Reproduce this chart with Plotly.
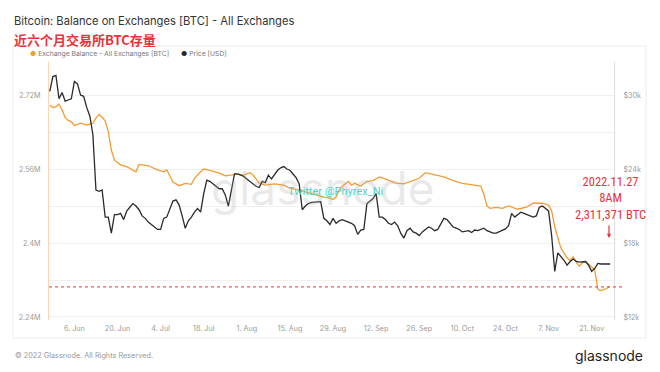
import plotly.graph_objects as go

# ---------------- data ----------------
balance_dates = [
    "2022-05-29", "2022-05-30", "2022-05-31", "2022-06-01", "2022-06-02", "2022-06-03",
    "2022-06-04", "2022-06-05", "2022-06-06", "2022-06-07", "2022-06-08", "2022-06-10",
    "2022-06-12", "2022-06-13", "2022-06-14", "2022-06-15", "2022-06-16", "2022-06-17",
    "2022-06-18", "2022-06-19", "2022-06-21", "2022-06-23", "2022-06-25", "2022-06-26",
    "2022-06-27", "2022-06-30", "2022-07-03", "2022-07-05", "2022-07-06", "2022-07-08",
    "2022-07-10", "2022-07-12", "2022-07-14", "2022-07-15", "2022-07-17", "2022-07-18",
    "2022-07-20", "2022-07-23", "2022-07-25", "2022-07-27", "2022-07-29", "2022-07-31",
    "2022-08-02", "2022-08-03", "2022-08-05", "2022-08-07", "2022-08-10", "2022-08-13",
    "2022-08-15", "2022-08-17", "2022-08-20", "2022-08-23", "2022-08-26", "2022-08-28",
    "2022-08-29", "2022-08-30", "2022-08-31", "2022-09-01", "2022-09-03", "2022-09-04",
    "2022-09-05", "2022-09-07", "2022-09-09", "2022-09-11", "2022-09-13", "2022-09-16",
    "2022-09-18", "2022-09-21", "2022-09-24", "2022-09-26", "2022-09-28", "2022-10-01",
    "2022-10-04", "2022-10-07", "2022-10-10", "2022-10-14", "2022-10-16", "2022-10-17",
    "2022-10-18", "2022-10-19", "2022-10-21", "2022-10-23", "2022-10-25", "2022-10-28",
    "2022-10-31", "2022-11-02", "2022-11-05", "2022-11-07", "2022-11-08", "2022-11-09",
    "2022-11-10", "2022-11-11", "2022-11-12", "2022-11-13", "2022-11-14", "2022-11-15",
    "2022-11-16", "2022-11-17", "2022-11-18", "2022-11-19", "2022-11-20", "2022-11-21",
    "2022-11-22", "2022-11-23", "2022-11-24", "2022-11-25", "2022-11-26", "2022-11-27",
]
balance_m = [
    2.698, 2.693, 2.695, 2.700, 2.688, 2.671,
    2.665, 2.662, 2.654, 2.656, 2.659, 2.655,
    2.659, 2.670, 2.678, 2.672, 2.664, 2.641,
    2.601, 2.579, 2.569, 2.565, 2.558, 2.554,
    2.570, 2.567, 2.558, 2.554, 2.558, 2.532,
    2.524, 2.529, 2.527, 2.540, 2.554, 2.560,
    2.557, 2.551, 2.545, 2.547, 2.549, 2.547,
    2.552, 2.547, 2.530, 2.525, 2.528, 2.525,
    2.518, 2.516, 2.510, 2.504, 2.499, 2.497,
    2.494, 2.500, 2.515, 2.523, 2.533, 2.525,
    2.529, 2.523, 2.533, 2.535, 2.543, 2.536,
    2.530, 2.528, 2.535, 2.540, 2.552, 2.547,
    2.543, 2.535, 2.529, 2.525, 2.523, 2.505,
    2.480, 2.475, 2.477, 2.475, 2.480, 2.473,
    2.478, 2.486, 2.486, 2.482, 2.470, 2.435,
    2.410, 2.389, 2.378, 2.368, 2.362, 2.370,
    2.358, 2.350, 2.357, 2.360, 2.354, 2.349,
    2.342, 2.300, 2.297, 2.299, 2.303, 2.306,
]

price_dates = [
    "2022-05-29", "2022-05-30", "2022-05-31", "2022-06-01", "2022-06-02", "2022-06-03",
    "2022-06-04", "2022-06-05", "2022-06-06", "2022-06-07", "2022-06-08", "2022-06-09",
    "2022-06-10", "2022-06-11", "2022-06-12", "2022-06-13", "2022-06-14", "2022-06-15",
    "2022-06-16", "2022-06-17", "2022-06-18", "2022-06-19", "2022-06-20", "2022-06-21",
    "2022-06-22", "2022-06-23", "2022-06-24", "2022-06-25", "2022-06-26", "2022-06-27",
    "2022-06-28", "2022-06-29", "2022-06-30", "2022-07-01", "2022-07-02", "2022-07-03",
    "2022-07-04", "2022-07-05", "2022-07-06", "2022-07-07", "2022-07-08", "2022-07-09",
    "2022-07-10", "2022-07-11", "2022-07-12", "2022-07-13", "2022-07-14", "2022-07-15",
    "2022-07-16", "2022-07-17", "2022-07-18", "2022-07-19", "2022-07-20", "2022-07-21",
    "2022-07-22", "2022-07-23", "2022-07-24", "2022-07-25", "2022-07-26", "2022-07-27",
    "2022-07-28", "2022-07-29", "2022-07-30", "2022-07-31", "2022-08-01", "2022-08-02",
    "2022-08-03", "2022-08-04", "2022-08-05", "2022-08-06", "2022-08-07", "2022-08-08",
    "2022-08-09", "2022-08-10", "2022-08-11", "2022-08-12", "2022-08-13", "2022-08-14",
    "2022-08-15", "2022-08-16", "2022-08-17", "2022-08-18", "2022-08-19", "2022-08-20",
    "2022-08-21", "2022-08-22", "2022-08-23", "2022-08-24", "2022-08-25", "2022-08-26",
    "2022-08-27", "2022-08-28", "2022-08-29", "2022-08-30", "2022-08-31", "2022-09-01",
    "2022-09-02", "2022-09-03", "2022-09-04", "2022-09-05", "2022-09-06", "2022-09-07",
    "2022-09-08", "2022-09-09", "2022-09-10", "2022-09-11", "2022-09-12", "2022-09-13",
    "2022-09-14", "2022-09-15", "2022-09-16", "2022-09-17", "2022-09-18", "2022-09-19",
    "2022-09-20", "2022-09-21", "2022-09-22", "2022-09-23", "2022-09-24", "2022-09-25",
    "2022-09-26", "2022-09-27", "2022-09-28", "2022-09-29", "2022-09-30", "2022-10-01",
    "2022-10-02", "2022-10-03", "2022-10-04", "2022-10-05", "2022-10-06", "2022-10-07",
    "2022-10-08", "2022-10-09", "2022-10-10", "2022-10-11", "2022-10-12", "2022-10-13",
    "2022-10-14", "2022-10-15", "2022-10-16", "2022-10-17", "2022-10-18", "2022-10-19",
    "2022-10-20", "2022-10-21", "2022-10-22", "2022-10-23", "2022-10-24", "2022-10-25",
    "2022-10-26", "2022-10-27", "2022-10-28", "2022-10-29", "2022-10-30", "2022-10-31",
    "2022-11-01", "2022-11-02", "2022-11-03", "2022-11-04", "2022-11-05", "2022-11-06",
    "2022-11-07", "2022-11-08", "2022-11-09", "2022-11-10", "2022-11-11", "2022-11-12",
    "2022-11-13", "2022-11-14", "2022-11-15", "2022-11-16", "2022-11-17", "2022-11-18",
    "2022-11-19", "2022-11-20", "2022-11-21", "2022-11-22", "2022-11-23", "2022-11-24",
    "2022-11-25", "2022-11-26", "2022-11-27",
]
price_k = [
    30.3, 31.5, 31.6, 29.7, 30.2, 29.5,
    29.6, 29.7, 31.1, 30.9, 30.0, 29.9,
    29.0, 28.3, 26.8, 22.3, 22.2, 22.3,
    20.1, 20.1, 18.8, 20.3, 20.3, 20.4,
    19.9, 20.6, 20.9, 21.2, 21.0, 20.7,
    20.2, 20.0, 19.7, 19.5, 19.3, 19.1,
    19.1, 20.0, 20.1, 20.8, 21.4, 21.5,
    21.1, 20.2, 19.2, 19.8, 20.1, 20.5,
    20.8, 20.5, 22.0, 23.1, 23.0, 22.8,
    22.6, 22.4, 22.4, 21.9, 21.0, 22.4,
    23.6, 23.6, 23.5, 23.4, 23.2, 23.0,
    22.8, 22.6, 22.5, 23.0, 22.9, 23.5,
    23.2, 23.6, 23.9, 24.1, 24.2, 24.0,
    23.9, 23.6, 23.3, 22.8, 20.7, 21.0,
    21.2, 21.3, 21.3, 21.3, 21.35, 20.0,
    19.8, 19.5, 20.0, 19.6, 19.8, 19.9,
    19.8, 19.7, 19.6, 19.4, 18.7, 19.05,
    19.1, 21.2, 21.4, 21.6, 22.0, 20.1,
    20.1, 19.9, 19.6, 19.5, 19.7, 19.4,
    18.8, 18.4, 19.0, 19.2, 18.9, 18.8,
    18.6, 18.9, 19.1, 19.3, 19.2, 19.0,
    19.1, 19.5, 20.0, 19.9, 19.6, 19.3,
    19.2, 19.1, 18.9, 18.95, 19.0, 18.85,
    19.05, 19.0, 19.1, 19.2, 19.0, 18.9,
    18.8, 18.8, 18.9, 19.05, 19.15, 19.4,
    20.4, 20.1, 20.3, 20.5, 20.4, 20.3,
    20.2, 20.1, 20.2, 20.9, 21.0, 20.8,
    20.6, 18.6, 15.7, 17.2, 16.9, 16.6,
    16.2, 16.5, 16.7, 16.5, 16.45, 16.5,
    16.5, 16.2, 15.7, 15.95, 16.35, 16.3,
    16.3, 16.3, 16.3,
]

x_tick_dates = ["2022-06-06", "2022-06-20", "2022-07-04", "2022-07-18", "2022-08-01",
                "2022-08-15", "2022-08-29", "2022-09-12", "2022-09-26", "2022-10-10",
                "2022-10-24", "2022-11-07", "2022-11-21"]
left_tick_vals = [2.24, 2.32, 2.40, 2.48, 2.56, 2.64, 2.72]
left_tick_text = ["2.24M", "", "2.4M", "", "2.56M", "", "2.72M"]
right_tick_vals = [12, 18, 24, 30]
right_tick_text = ["$12k", "$18k", "$24k", "$30k"]
marked_level_m = 2.305
legend_names = ["Exchange Balance - All Exchanges [BTC]", "Price [USD]"]

# ---------------- styling ----------------
ORANGE = "#f39c33"
DARK = "#2a2a2a"
RED = "#e8333d"
AXIS_FONT = dict(family="Inter, Roboto, sans-serif", size=7.2, color="#9a9a9a")

fig = go.Figure()

fig.add_trace(go.Scatter(
    x=balance_dates, y=balance_m, mode="lines", yaxis="y", name=legend_names[0],
    line=dict(color=ORANGE, width=1.3), showlegend=False, hoverinfo="skip"))
fig.add_trace(go.Scatter(
    x=price_dates, y=price_k, mode="lines", yaxis="y2", name=legend_names[1],
    line=dict(color=DARK, width=1.3), showlegend=False, hoverinfo="skip"))

L, R, T, B = 49, 46, 62, 52
W, H = 660, 372
PW, PH = W - L - R, H - T - B


def px(xp):
    return (xp - L) / PW


def py(yp):
    return (H - B - yp) / PH


fig.update_layout(
    width=W, height=H,
    margin=dict(l=L, r=R, t=T, b=B, autoexpand=False),
    paper_bgcolor="white", plot_bgcolor="white",
    showlegend=False,
    font=dict(family="Inter, Roboto, sans-serif"),
    xaxis=dict(
        type="date", range=["2022-05-28 18:00", "2022-11-28 06:00"],
        tickvals=x_tick_dates, tickformat="%-d. %b",
        showgrid=False, zeroline=False, showline=False, automargin=False,
        ticks="outside", ticklen=1, tickcolor="rgba(0,0,0,0)",
        tickfont=AXIS_FONT,
    ),
    yaxis=dict(
        range=[2.2335, 2.7914], tickvals=left_tick_vals, ticktext=left_tick_text,
        showgrid=True, gridcolor="#f0f0f0", gridwidth=1, zeroline=False,
        showline=True, linecolor="#fad7b0", linewidth=1, automargin=False,
        ticks="outside", ticklen=6, tickcolor="rgba(0,0,0,0)",
        tickfont=AXIS_FONT,
    ),
    yaxis2=dict(
        range=[11.757, 32.68], overlaying="y", side="right",
        tickvals=right_tick_vals, ticktext=right_tick_text,
        showgrid=False, zeroline=False, automargin=False,
        showline=True, linecolor="#dcdcdc", linewidth=1,
        ticks="outside", ticklen=7, tickcolor="rgba(0,0,0,0)",
        tickfont=AXIS_FONT,
    ),
)

# card border
fig.add_shape(type="rect", xref="paper", yref="paper",
              x0=px(13), x1=px(646), y0=py(338), y1=py(46),
              line=dict(color="#ececec", width=1), fillcolor="rgba(0,0,0,0)", layer="below")

# red dashed level line
fig.add_shape(type="line", xref="paper", yref="y", x0=0, x1=px(625),
              y0=marked_level_m, y1=marked_level_m,
              line=dict(color=RED, width=1, dash="dot"))

# legend (dot + label)
LEG_FONT = dict(family="Inter, Roboto, sans-serif", size=6.8, color="#777")
fig.add_annotation(xref="paper", yref="paper", x=px(28), y=py(54), xanchor="left", yanchor="middle",
                   text=f'<span style="color:{ORANGE}">●</span> {legend_names[0]}', showarrow=False, font=LEG_FONT)
fig.add_annotation(xref="paper", yref="paper", x=px(179), y=py(54), xanchor="left", yanchor="middle",
                   text=f'<span style="color:{DARK}">●</span> {legend_names[1]}', showarrow=False, font=LEG_FONT)

# watermark
fig.add_annotation(xref="paper", yref="paper", x=px(323), y=py(188), text="glassnode",
                   showarrow=False, font=dict(family="Inter, sans-serif", size=46, color="rgba(170,170,170,0.25)"))
fig.add_annotation(xref="paper", yref="paper", x=px(335), y=py(191), text="Twitter @Phyrex_Ni",
                   showarrow=False, font=dict(family="Roboto, sans-serif", size=11, color="#45d8c8"))

# titles
fig.add_annotation(xref="paper", yref="paper", x=px(12), y=py(21), xanchor="left", yanchor="middle",
                   text="Bitcoin: Balance on Exchanges [BTC] - All Exchanges", showarrow=False,
                   font=dict(family="Inter, Roboto, sans-serif", size=11.2, color="#333"))
fig.add_annotation(xref="paper", yref="paper", x=px(12), y=py(39), xanchor="left", yanchor="middle",
                   text="<b>近六个月交易所BTC存量</b>", showarrow=False,
                   font=dict(family="Noto Sans CJK SC, sans-serif", size=13, color=RED))

# red note + arrow
fig.add_annotation(xref="paper", yref="paper", x=px(610), y=py(198), xanchor="center", yanchor="middle",
                   text="2022.11.27<br>8AM<br>2,311,371 BTC", showarrow=False, align="center",
                   font=dict(family="Liberation Sans Narrow, Roboto Condensed, Roboto, sans-serif", size=12.5, color=RED))
fig.add_annotation(xref="paper", yref="paper", x=px(609), y=py(238), ax=0, ay=-14,
                   text="", showarrow=True, arrowhead=2, arrowsize=0.7, arrowwidth=1.2, arrowcolor=RED)

# footer
fig.add_annotation(xref="paper", yref="paper", x=px(13), y=py(355), xanchor="left", yanchor="middle",
                   text="© 2022 Glassnode. All Rights Reserved.", showarrow=False,
                   font=dict(family="Inter, Roboto, sans-serif", size=7.3, color="#999"))
fig.add_annotation(xref="paper", yref="paper", x=px(645), y=py(355), xanchor="right", yanchor="middle",
                   text="glassnode", showarrow=False,
                   font=dict(family="Inter, Roboto, sans-serif", size=14, color="#1e1e1e"))

fig.write_html("out.html", config={"displayModeBar": False},
               post_script="document.body.style.margin='0';document.body.style.padding='0';")
